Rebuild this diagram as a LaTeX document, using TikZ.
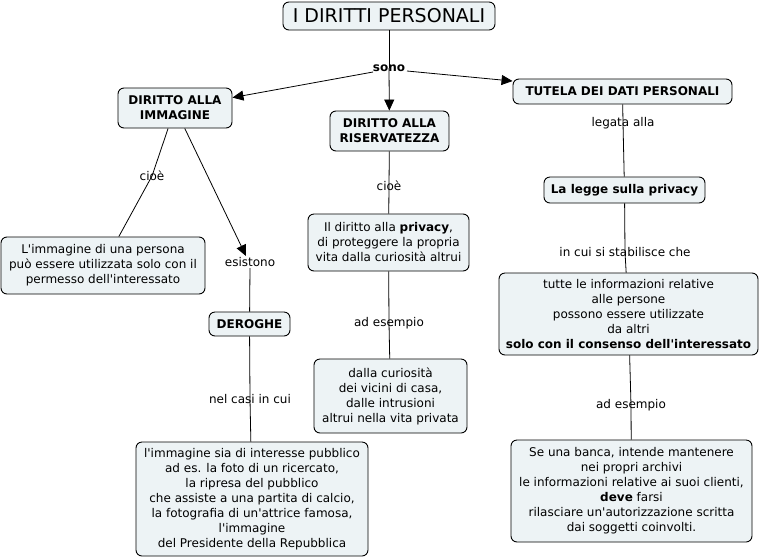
\documentclass[tikz,border=0pt]{standalone}
\usepackage{fontspec}
\setmainfont{DejaVu Sans}
\usetikzlibrary{arrows.meta}
\definecolor{boxfill}{RGB}{237,243,245}
\newcommand{\ap}{\textquotesingle}
\tikzset{
  concept/.style={draw=black, line width=0.9pt, fill=boxfill, rounded corners=6pt,
    align=center, inner sep=0pt, font=\fontsize{12}{15}\selectfont},
  linkphrase/.style={inner sep=1pt, align=center, font=\fontsize{12}{15}\selectfont},
  conn/.style={draw=black, line width=0.8pt},
  arr/.style={conn, -{Triangle[length=11pt,width=10pt]}}
}
\begin{document}
\begin{tikzpicture}[x=1pt,y=-1pt]
\useasboundingbox (0,0) rectangle (761,558);

% concepts
\node[concept, minimum width=212pt, minimum height=28pt, font=\fontsize{19}{21}\selectfont] (title) at (389,16) {I DIRITTI PERSONALI};
\node[concept, minimum width=114pt, minimum height=40pt, font=\fontsize{12}{15}\selectfont\bfseries] (imm) at (175,108) {DIRITTO ALLA\\IMMAGINE};
\node[concept, minimum width=119pt, minimum height=40pt, font=\fontsize{12}{15}\selectfont\bfseries] (ris) at (389.5,131) {DIRITTO ALLA\\RISERVATEZZA};
\node[concept, minimum width=219pt, minimum height=25pt, font=\fontsize{12}{15}\selectfont\bfseries] (tut) at (622.5,91.5) {TUTELA DEI DATI PERSONALI};
\node[concept, minimum width=161pt, minimum height=26pt, font=\fontsize{12}{15}\selectfont\bfseries] (legge) at (624.5,190) {La legge sulla privacy};
\node[concept, minimum width=259pt, minimum height=82pt] (tutte) at (628.5,314) {tutte le informazioni relative\\alle persone\\possono essere utilizzate\\da altri\\\textbf{solo con il consenso dell\ap interessato}};
\node[concept, minimum width=241pt, minimum height=102pt] (banca) at (631.5,491) {Se una banca, intende mantenere\\nei propri archivi\\le informazioni relative ai suoi clienti,\\\textbf{deve} farsi\\rilasciare un\ap autorizzazione scritta\\dai soggetti coinvolti.};
\node[concept, minimum width=204pt, minimum height=57pt] (limm) at (103,265.5) {L\ap immagine di una persona\\può essere utilizzata solo con il\\permesso dell\ap interessato};
\node[concept, minimum width=161pt, minimum height=57pt] (diritto) at (388.5,242.5) {Il diritto alla \textbf{privacy},\\di proteggere la propria\\vita dalla curiosità altrui};
\node[concept, minimum width=81pt, minimum height=24pt, font=\fontsize{12}{15}\selectfont\bfseries] (der) at (249.5,324) {DEROGHE};
\node[concept, minimum width=153pt, minimum height=74pt] (cur) at (390.5,396) {dalla curiosità\\dei vicini di casa,\\dalle intrusioni\\altrui nella vita privata};
\node[concept, minimum width=232pt, minimum height=114pt] (sia) at (252,499) {l\ap immagine sia di interesse pubblico\\ad es. la foto di un ricercato,\\la ripresa del pubblico\\che assiste a una partita di calcio,\\la fotografia di un\ap attrice famosa,\\l\ap immagine\\del Presidente della Repubblica};

% linking phrases (coordinates for line routing)
\coordinate (sonoc) at (389,68);
\coordinate (cioe1c) at (152,176);
\coordinate (esistc) at (250,262);
\coordinate (nelc) at (250,399);
\coordinate (cioe2c) at (389,186);
\coordinate (es1c) at (389,323);
\coordinate (legc) at (623,123);
\coordinate (incuic) at (625,252);
\coordinate (es2c) at (631,405);

% connectors
\draw[conn] (title) -- (sonoc);
\draw[arr] (373,72) -- (imm);
\draw[arr] (sonoc) -- (ris);
\draw[arr] (407,71) -- (tut);
\draw[conn] (imm) -- (cioe1c) -- (limm);
\draw[arr] (imm) -- (246,256);
\draw[conn] (250,268) -- (der);
\draw[conn] (der) -- (nelc) -- (sia);
\draw[conn] (ris) -- (cioe2c) -- (diritto);
\draw[conn] (diritto) -- (es1c) -- (cur);
\draw[conn] (tut) -- (legc) -- (legge);
\draw[conn] (legge) -- (incuic) -- (tutte);
\draw[conn] (tutte) -- (es2c) -- (banca);

% linking phrase texts
\node[linkphrase, font=\fontsize{12}{15}\selectfont\bfseries] (sono) at (sonoc) {sono};
\node[linkphrase] (cioe1) at (cioe1c) {cioè};
\node[linkphrase] (esist) at (esistc) {esistono};
\node[linkphrase] (nel) at (nelc) {nel casi in cui};
\node[linkphrase] (cioe2) at (cioe2c) {cioè};
\node[linkphrase] (es1) at (es1c) {ad esempio};
\node[linkphrase] (leg) at (legc) {legata alla};
\node[linkphrase] (incui) at (incuic) {in cui si stabilisce che};
\node[linkphrase] (es2) at (es2c) {ad esempio};
\end{tikzpicture}
\end{document}
